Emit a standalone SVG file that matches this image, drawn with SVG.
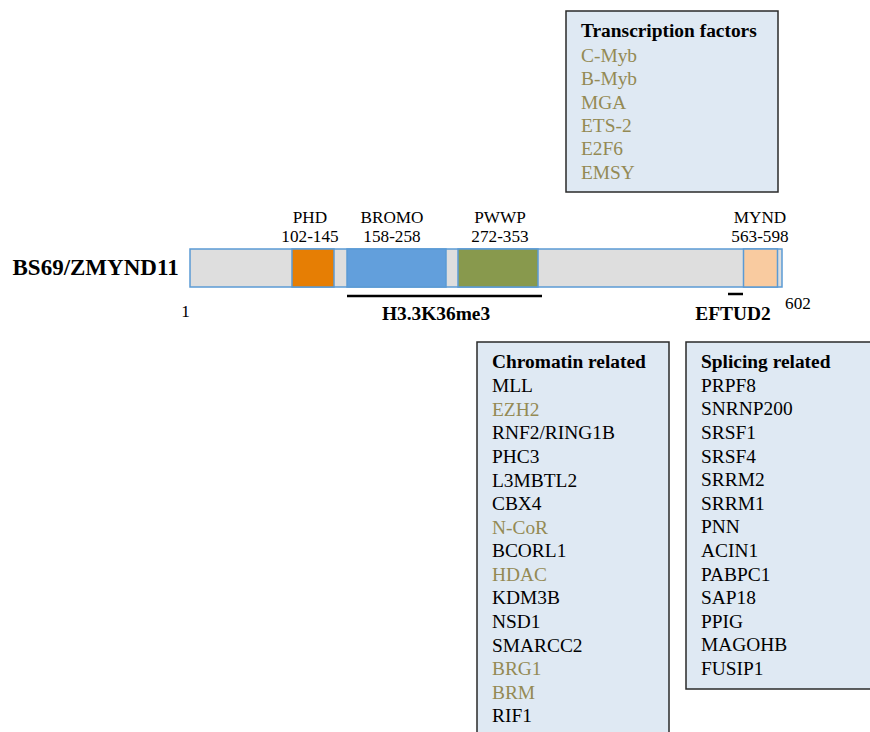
<svg xmlns="http://www.w3.org/2000/svg" width="870" height="732" viewBox="0 0 870 732">
<style>
text{font-family:"Liberation Serif","Times New Roman",serif;}
.lbl{font-size:17.2px;fill:#000;text-anchor:middle;}
.li{font-size:19.4px;fill:#000;}
.ol{fill:#948a54;}
.hd{font-size:19.4px;font-weight:bold;fill:#000;}
.box{fill:#dfe9f3;stroke:#2a2a2a;stroke-width:1.5;}
.dom{stroke:#5b9bd5;stroke-width:1.5;}
.bind{stroke:#000;stroke-width:2.5;}
</style>
<rect width="870" height="732" fill="#fff"/>
<g id="protein">
<text x="12.5" y="275" font-size="23" font-weight="bold">BS69/ZMYND11</text>
<rect class="dom" x="190" y="249" width="592" height="38" fill="#dedede"/>
<rect id="phd" class="dom" x="292" y="249" width="42" height="38" fill="#e67e04"/>
<rect id="bromo" class="dom" x="347" y="249" width="99" height="38" fill="#629fdc"/>
<rect id="pwwp" class="dom" x="458" y="249" width="80" height="38" fill="#88994d"/>
<rect id="mynd" class="dom" x="743.5" y="249" width="34" height="38" fill="#f9cba0"/>
<text class="lbl" x="310" y="222.7">PHD</text>
<text class="lbl" x="310" y="242.3">102-145</text>
<text class="lbl" x="392" y="222.7">BROMO</text>
<text class="lbl" x="392" y="242.3">158-258</text>
<text class="lbl" x="500" y="222.7">PWWP</text>
<text class="lbl" x="500" y="242.3">272-353</text>
<text class="lbl" x="760" y="222.7">MYND</text>
<text class="lbl" x="760" y="242.3">563-598</text>
<text class="lbl" x="185.5" y="317">1</text>
<text class="lbl" x="798" y="308.5">602</text>
</g>
<g id="connectors">
<line class="bind" x1="347" y1="296" x2="542" y2="296"/>
<line class="bind" x1="728" y1="294" x2="743" y2="294"/>
</g>
<g id="h33">
<text class="hd" x="436" y="320" text-anchor="middle">H3.3K36me3</text>
</g>
<g id="eftud2">
<text class="hd" x="733" y="320" text-anchor="middle">EFTUD2</text>
</g>
<g id="transcription">
<rect class="box" x="566" y="11" width="212" height="181"/>
<text class="hd" x="581" y="37">Transcription factors</text>
<text class="li ol" x="581" y="62">C-Myb</text>
<text class="li ol" x="581" y="85.3">B-Myb</text>
<text class="li ol" x="581" y="108.6">MGA</text>
<text class="li ol" x="581" y="131.9">ETS-2</text>
<text class="li ol" x="581" y="155.2">E2F6</text>
<text class="li ol" x="581" y="178.5">EMSY</text>
</g>
<g id="chromatin">
<rect class="box" x="477" y="342" width="192" height="400"/>
<text class="hd" x="492" y="368.3">Chromatin related</text>
<text class="li" x="492" y="392.3">MLL</text>
<text class="li ol" x="492" y="415.9">EZH2</text>
<text class="li" x="492" y="439.4">RNF2/RING1B</text>
<text class="li" x="492" y="463">PHC3</text>
<text class="li" x="492" y="486.6">L3MBTL2</text>
<text class="li" x="492" y="510.2">CBX4</text>
<text class="li ol" x="492" y="533.7">N-CoR</text>
<text class="li" x="492" y="557.3">BCORL1</text>
<text class="li ol" x="492" y="580.9">HDAC</text>
<text class="li" x="492" y="604.4">KDM3B</text>
<text class="li" x="492" y="628">NSD1</text>
<text class="li" x="492" y="651.6">SMARCC2</text>
<text class="li ol" x="492" y="675.2">BRG1</text>
<text class="li ol" x="492" y="698.7">BRM</text>
<text class="li" x="492" y="722.3">RIF1</text>
</g>
<g id="splicing">
<rect class="box" x="686" y="342" width="200" height="347"/>
<text class="hd" x="701" y="368">Splicing related</text>
<text class="li" x="701" y="391.7">PRPF8</text>
<text class="li" x="701" y="415.3">SNRNP200</text>
<text class="li" x="701" y="438.9">SRSF1</text>
<text class="li" x="701" y="462.5">SRSF4</text>
<text class="li" x="701" y="486.1">SRRM2</text>
<text class="li" x="701" y="509.7">SRRM1</text>
<text class="li" x="701" y="533.3">PNN</text>
<text class="li" x="701" y="557">ACIN1</text>
<text class="li" x="701" y="580.6">PABPC1</text>
<text class="li" x="701" y="604.2">SAP18</text>
<text class="li" x="701" y="627.8">PPIG</text>
<text class="li" x="701" y="651.4">MAGOHB</text>
<text class="li" x="701" y="675">FUSIP1</text>
</g>
</svg>
